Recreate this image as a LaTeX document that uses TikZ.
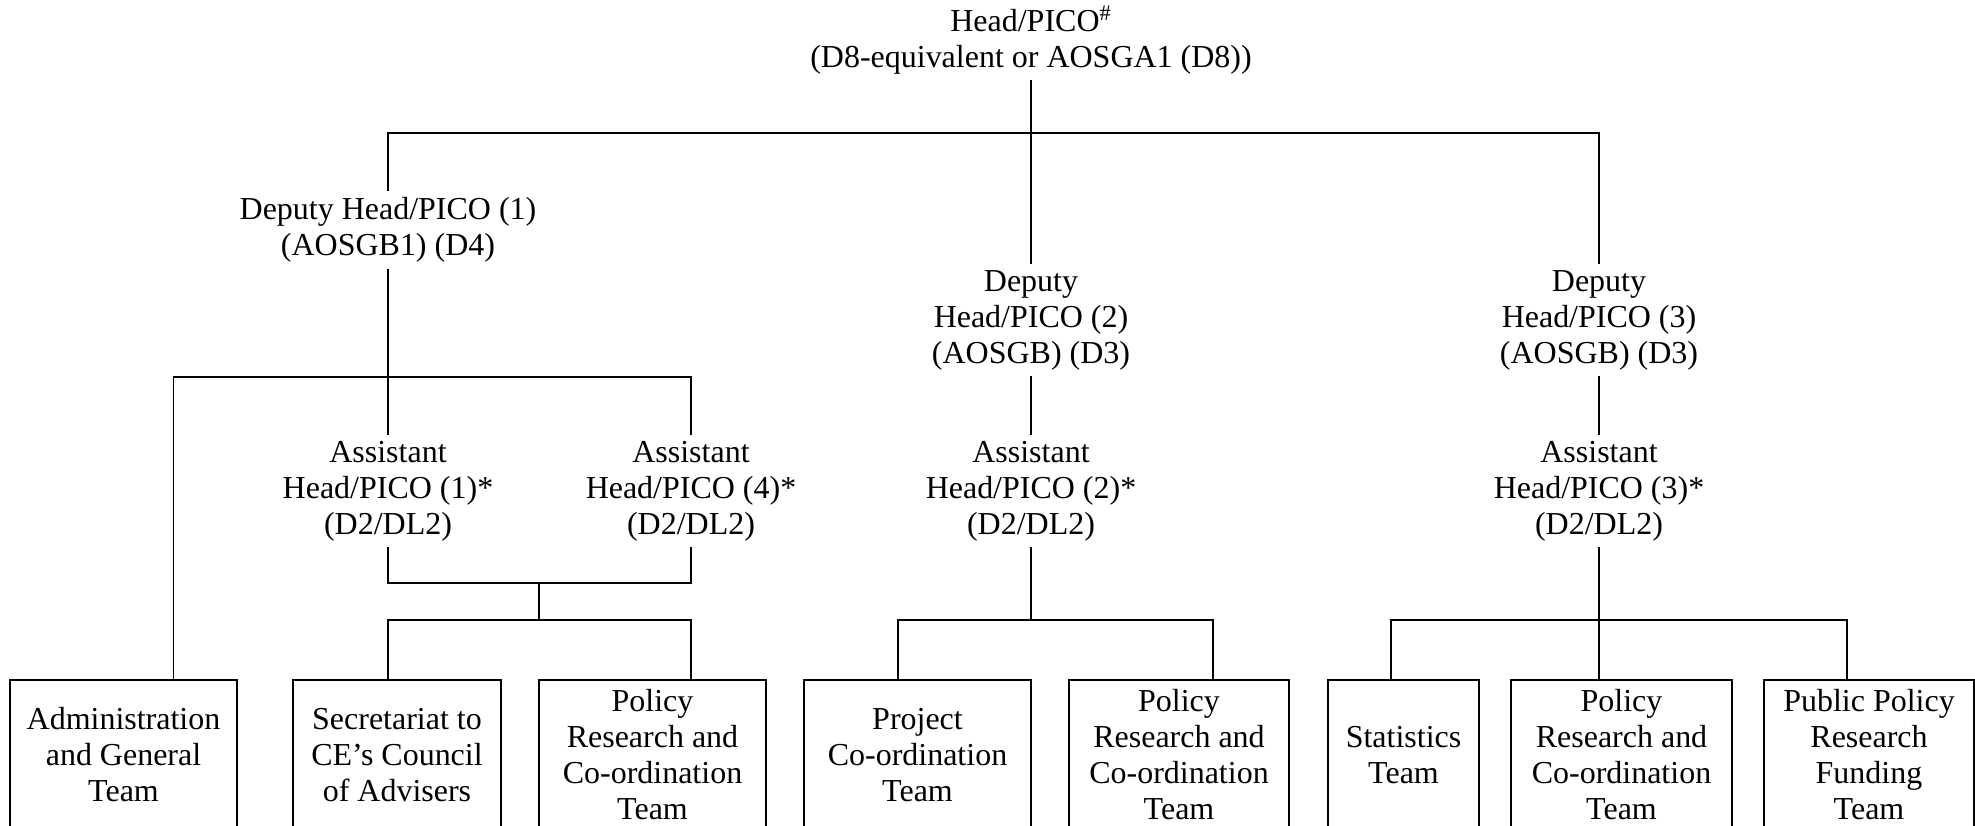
\documentclass[tikz,border=0pt]{standalone}
\usepackage{fontspec}
\setmainfont{Liberation Serif}
\usepackage{tikz}
\tikzstyle{post} = [align=center, font=\fontsize{18.2}{20.5}\selectfont]
\tikzstyle{team} = [rectangle, minimum height=3cm, text centered, align=center, draw=black, line width=1.4pt, font=\fontsize{18.2}{20.5}\selectfont]
\tikzstyle{link} = [line width=1.1pt]

\begin{document}
\begin{tikzpicture}
\useasboundingbox (0,0) rectangle (39.5,16.52);

% Nodes
\node (head) at (20.62,15.72) [post] {Head/PICO\textsuperscript{\#}\\(D8-equivalent or AOSGA1 (D8))};

\node (dep1) at (7.76,11.92) [post] {Deputy Head/PICO (1)\\(AOSGB1) (D4)};
\node (dep2) at (20.62,10.12) [post] {Deputy\\Head/PICO (2)\\(AOSGB) (D3)};
\node (dep3) at (31.98,10.12) [post] {Deputy\\Head/PICO (3)\\(AOSGB) (D3)};

\node (asst1) at (7.76,6.70) [post] {Assistant\\Head/PICO (1)*\\(D2/DL2)};
\node (asst4) at (13.82,6.70) [post] {Assistant\\Head/PICO (4)*\\(D2/DL2)};
\node (asst2) at (20.62,6.70) [post] {Assistant\\Head/PICO (2)*\\(D2/DL2)};
\node (asst3) at (31.98,6.70) [post] {Assistant\\Head/PICO (3)*\\(D2/DL2)};

\node (admin) at (2.47,1.42) [team, minimum width=4.54cm] {Administration\\and General\\Team};
\node (secre) at (7.94,1.42) [team, minimum width=4.16cm] {Secretariat to\\CE's Council\\of Advisers};
\node (policy1) at (13.05,1.42) [team, minimum width=4.54cm] {Policy\\Research and\\Co-ordination\\Team};
\node (project) at (18.35,1.42) [team, minimum width=4.54cm] {Project\\Co-ordination\\Team};
\node (policy2) at (23.58,1.42) [team, minimum width=4.40cm] {Policy\\Research and\\Co-ordination\\Team};
\node (stats) at (28.07,1.42) [team, minimum width=3.02cm] {Statistics\\Team};
\node (policy3) at (32.43,1.42) [team, minimum width=4.42cm] {Policy\\Research and\\Co-ordination\\Team};
\node (funding) at (37.38,1.42) [team, minimum width=4.20cm] {Public Policy\\Research\\Funding\\Team};

\coordinate (top) at (20.62,13.86);
\coordinate (joinA) at (10.78,4.86);
\coordinate (joinB) at (10.78,4.12);
\coordinate (bar2) at (20.62,4.12);
\coordinate (bar3) at (31.98,4.12);

% Lines
\draw [link] (head) -- (dep2);
\draw [link] (dep1.north) |- (top) -| (dep3.north);

\draw [link] (dep1) -- (asst1);
\draw [link] ([xshift=1cm]admin.north) |- (asst4.north |- 0,8.98) -- (asst4.north);
\draw [link] (asst1.south) |- (joinA) -| (asst4.south);
\draw [link] (joinA) -- (joinB);
\draw [link] ([xshift=-0.18cm]secre.north) |- (joinB) -| ([xshift=0.77cm]policy1.north);

\draw [link] (dep2) -- (asst2);
\draw [link] (asst2) -- (bar2);
\draw [link] ([xshift=-0.39cm]project.north) |- (bar2) -| ([xshift=0.68cm]policy2.north);

\draw [link] (dep3) -- (asst3);
\draw [link] (asst3) -- ([xshift=-0.45cm]policy3.north);
\draw [link] ([xshift=-0.25cm]stats.north) |- (bar3) -| ([xshift=-0.44cm]funding.north);

\end{tikzpicture}
\end{document}
